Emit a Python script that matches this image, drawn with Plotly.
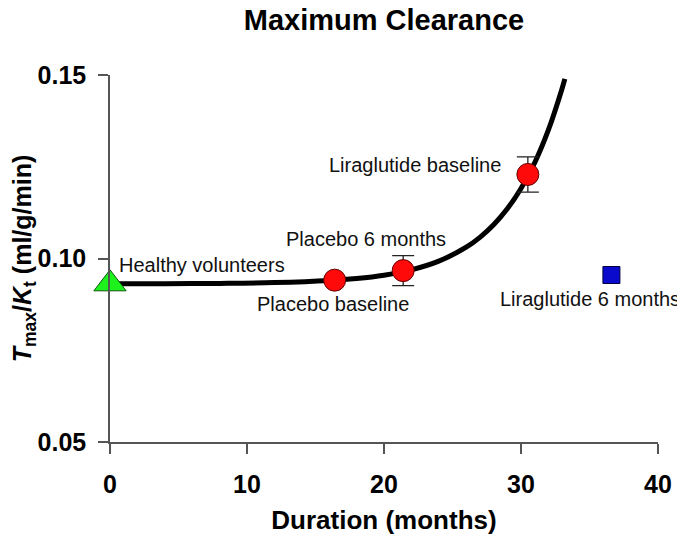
import plotly.graph_objects as go

# Data
fit_x = [0, 4, 8, 12, 16, 18, 20, 22, 24, 26, 27, 28, 29, 30, 31, 32, 33, 33.2]
fit_y = [0.0931, 0.09313, 0.09322, 0.09343, 0.0940, 0.09456, 0.09546, 0.09692,
         0.09928, 0.10308, 0.10577, 0.1092, 0.11354, 0.11908, 0.12608, 0.13502,
         0.14634, 0.14896]

healthy_x = [0]
healthy_y = [0.0931]

circle_x = [16.4, 21.4, 30.5]
circle_y = [0.0941, 0.0967, 0.1229]
circle_err = [0.0, 0.0041, 0.0048]

lira6_x = [36.6]
lira6_y = [0.0955]

labels = ["Healthy volunteers", "Placebo baseline", "Placebo 6 months",
          "Liraglutide baseline", "Liraglutide 6 months"]

x_ticks = [0, 10, 20, 30, 40]
y_ticks = [0.05, 0.10, 0.15]

LABEL_FONT = dict(family="Liberation Sans, Arial, sans-serif", size=20, color="#111")

fig = go.Figure()

fig.add_trace(go.Scatter(
    x=fit_x, y=fit_y, mode="lines",
    line=dict(color="black", width=5, shape="spline"),
    cliponaxis=False, hoverinfo="skip", showlegend=False))

fig.add_trace(go.Scatter(
    x=healthy_x, y=healthy_y, mode="markers",
    marker=dict(symbol="triangle-up", size=28, color="#1DF21D",
                line=dict(color="#0a5a0a", width=1)),
    cliponaxis=False, showlegend=False))

fig.add_trace(go.Scatter(
    x=circle_x, y=circle_y, mode="markers",
    marker=dict(symbol="circle", size=22, color="#FF0A0A",
                line=dict(color="#600000", width=1)),
    error_y=dict(type="data", array=circle_err, visible=True,
                 color="#222", thickness=1.3, width=11),
    cliponaxis=False, showlegend=False))

fig.add_trace(go.Scatter(
    x=lira6_x, y=lira6_y, mode="markers",
    marker=dict(symbol="square", size=17, color="#0A0ACC",
                line=dict(color="#000040", width=1)),
    cliponaxis=False, showlegend=False))

# text labels (positions in data units)
label_pos = [(6.74, 0.0982), (16.25, 0.0876), (18.66, 0.1053),
             (22.23, 0.1256), (35.0, 0.0890)]
for txt, (lx, ly) in zip(labels, label_pos):
    fig.add_annotation(x=lx, y=ly, xref="x", yref="y", text=txt,
                       showarrow=False, xanchor="center", yanchor="middle",
                       font=LABEL_FONT)

AXIS_FONT = dict(family="Liberation Sans, Arial, sans-serif", size=25, color="black")

# page body adds an 8px offset, so the figure is sized 8px smaller
W, H = 677, 527
fig.update_layout(
    width=W, height=H,
    margin=dict(l=102, r=27, t=67, b=93, autoexpand=False),
    paper_bgcolor="white", plot_bgcolor="white",
    title=dict(text="<b>Maximum Clearance</b>", x=0.5, xref="paper",
               y=1 - 12 / H, yref="container", xanchor="center", yanchor="middle",
               font=dict(family="Liberation Sans, Arial, sans-serif",
                         size=29, color="black")),
    xaxis=dict(range=[0, 40], tickvals=x_ticks, ticktext=[f"<b>{v}</b>" for v in x_ticks],
               showgrid=False, zeroline=False, showline=True, linecolor="#555", linewidth=1.5,
               ticks="outside", ticklen=10, tickwidth=1.5, tickcolor="#555",
               tickfont=AXIS_FONT, ticklabelstandoff=9, automargin=False,
               title=dict(text="<b>Duration (months)</b>", standoff=29,
                          font=dict(family="Liberation Sans, Arial, sans-serif", size=26, color="black"))),
    yaxis=dict(range=[0.05, 0.15], tickvals=y_ticks,
               ticktext=[f"<b>{v:.2f}</b>" for v in y_ticks],
               showgrid=False, zeroline=False, showline=True, linecolor="#555", linewidth=1.5,
               ticks="outside", ticklen=10, tickwidth=1.5, tickcolor="#555",
               tickfont=AXIS_FONT, ticklabelstandoff=7, automargin=False,
               title=dict(text="<b><i>T</i><sub>max</sub>/<i>K</i><sub>t</sub> (ml/g/min)</b>",
                          standoff=5,
                          font=dict(family="Liberation Sans, Arial, sans-serif", size=25, color="black"))),
)

fig.write_html("out.html")
